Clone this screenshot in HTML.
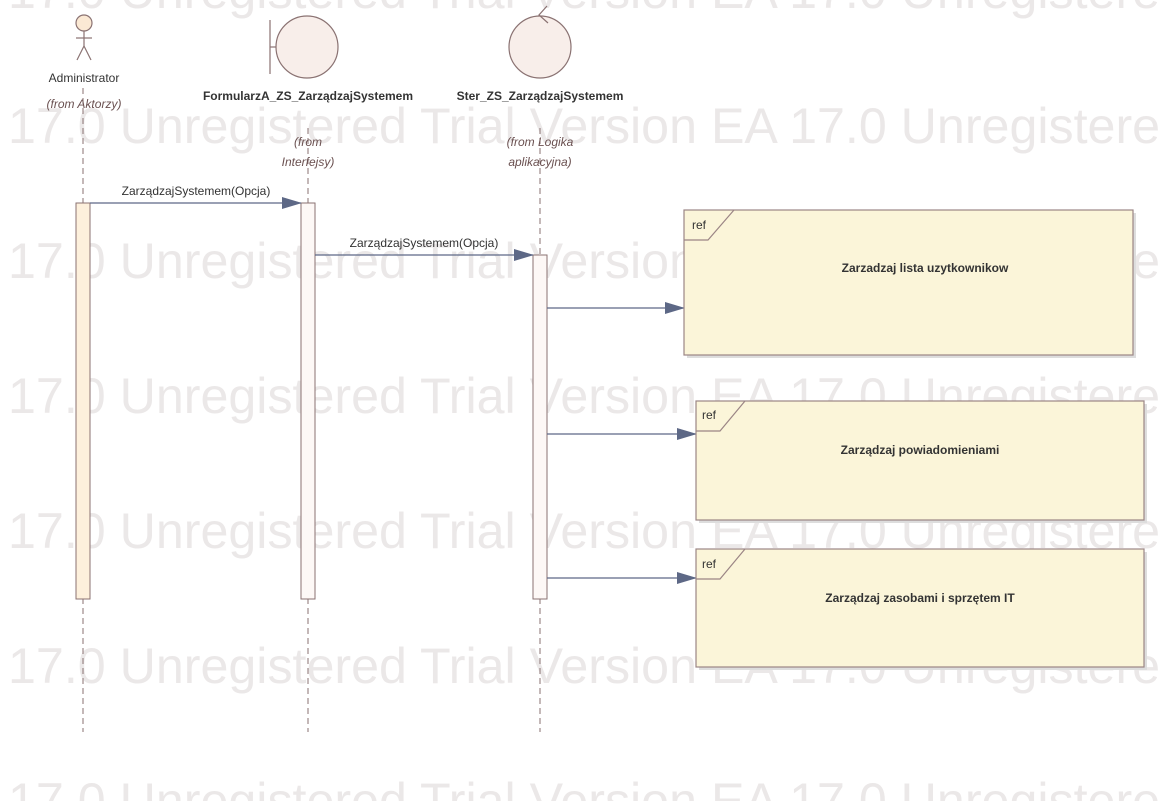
<!DOCTYPE html>
<html><head><meta charset="utf-8"><style>html,body{margin:0;padding:0;background:#fff;}svg{display:block}</style></head>
<body>
<svg width="1159" height="801" viewBox="0 0 1159 801" xmlns="http://www.w3.org/2000/svg" font-family="Liberation Sans, sans-serif">
<defs>
<marker id="ar" markerWidth="20" markerHeight="12" refX="19" refY="6" orient="auto" markerUnits="userSpaceOnUse">
<path d="M0,0 L20,6 L0,12 Z" fill="#5d6886"/>
</marker>
</defs>
<g fill="#ebe8e8" font-size="50">
<text x="8" y="8" textLength="1180" lengthAdjust="spacingAndGlyphs">17.0 Unregistered Trial Version EA 17.0 Unregistered</text>
<text x="8" y="143" textLength="1180" lengthAdjust="spacingAndGlyphs">17.0 Unregistered Trial Version EA 17.0 Unregistered</text>
<text x="8" y="278" textLength="1180" lengthAdjust="spacingAndGlyphs">17.0 Unregistered Trial Version EA 17.0 Unregistered</text>
<text x="8" y="413" textLength="1180" lengthAdjust="spacingAndGlyphs">17.0 Unregistered Trial Version EA 17.0 Unregistered</text>
<text x="8" y="548" textLength="1180" lengthAdjust="spacingAndGlyphs">17.0 Unregistered Trial Version EA 17.0 Unregistered</text>
<text x="8" y="683" textLength="1180" lengthAdjust="spacingAndGlyphs">17.0 Unregistered Trial Version EA 17.0 Unregistered</text>
<text x="8" y="818" textLength="1180" lengthAdjust="spacingAndGlyphs">17.0 Unregistered Trial Version EA 17.0 Unregistered</text>
</g>
<g stroke="#8a7272" stroke-width="1" stroke-dasharray="6,4">
<line x1="83" y1="88" x2="83" y2="732"/>
<line x1="308" y1="128" x2="308" y2="732"/>
<line x1="540" y1="128" x2="540" y2="732"/>
</g>
<g stroke="#8a7272" stroke-width="1.2" fill="none">
<circle cx="84" cy="23" r="8" fill="#fbe9d4"/>
<line x1="84" y1="31" x2="84" y2="46"/>
<line x1="76" y1="38" x2="92" y2="38"/>
<line x1="84" y1="46" x2="77" y2="60"/>
<line x1="84" y1="46" x2="91" y2="60"/>
</g>
<g stroke="#8a7272" stroke-width="1.2">
<line x1="270" y1="20" x2="270" y2="74"/>
<line x1="270" y1="47" x2="276" y2="47"/>
<circle cx="307" cy="47" r="31" fill="#f8eeea"/>
</g>
<g stroke="#8a7272" stroke-width="1.2" fill="none">
<circle cx="540" cy="47" r="31" fill="#f8eeea"/>
<path d="M547,6 L539,15 L548,23"/>
</g>
<g font-size="12" fill="#333" text-anchor="middle">
<text x="84" y="82">Administrator</text>
<text x="84" y="108" font-style="italic" fill="#6a5050">(from Aktorzy)</text>
<text x="308" y="100" font-weight="bold">FormularzA_ZS_ZarządzajSystemem</text>
<text x="540" y="100" font-weight="bold">Ster_ZS_ZarządzajSystemem</text>
<text x="308" y="146" font-style="italic" fill="#6a5050">(from</text>
<text x="308" y="166" font-style="italic" fill="#6a5050">Interfejsy)</text>
<text x="540" y="146" font-style="italic" fill="#6a5050">(from Logika</text>
<text x="540" y="166" font-style="italic" fill="#6a5050">aplikacyjna)</text>
</g>
<g stroke="#8a7272" stroke-width="1">
<rect x="76" y="203" width="14" height="396" fill="#fdf0dc"/>
<rect x="301" y="203" width="14" height="396" fill="#fdf8f6"/>
<rect x="533" y="255" width="14" height="344" fill="#fdf8f6"/>
</g>
<g stroke="#5d6886" stroke-width="1.3" marker-end="url(#ar)">
<line x1="90" y1="203" x2="301" y2="203"/>
<line x1="315" y1="255" x2="533" y2="255"/>
<line x1="547" y1="308" x2="684" y2="308"/>
<line x1="547" y1="434" x2="696" y2="434"/>
<line x1="547" y1="578" x2="696" y2="578"/>
</g>
<g font-size="12" fill="#333" text-anchor="middle">
<text x="196" y="195">ZarządzajSystemem(Opcja)</text>
<text x="424" y="247">ZarządzajSystemem(Opcja)</text>
</g>
<g stroke="#9b8585" stroke-width="1.2" fill="#fbf5d9">
<rect x="687" y="213" width="449" height="145" fill="#ddd" stroke="none"/>
<rect x="684" y="210" width="449" height="145"/>
<rect x="699" y="404" width="448" height="119" fill="#ddd" stroke="none"/>
<rect x="696" y="401" width="448" height="119"/>
<rect x="699" y="552" width="448" height="118" fill="#ddd" stroke="none"/>
<rect x="696" y="549" width="448" height="118"/>
<path d="M684,240 L708,240 L734,210" fill="none"/>
<path d="M696,431 L720,431 L745,401" fill="none"/>
<path d="M696,579 L720,579 L745,549" fill="none"/>
</g>
<g font-size="12" fill="#333">
<text x="692" y="229">ref</text>
<text x="702" y="419">ref</text>
<text x="702" y="568">ref</text>
<g font-weight="bold" text-anchor="middle">
<text x="925" y="272">Zarzadzaj lista uzytkownikow</text>
<text x="920" y="454">Zarządzaj powiadomieniami</text>
<text x="920" y="602">Zarządzaj zasobami i sprzętem IT</text>
</g>
</g>
</svg>
</body></html>
